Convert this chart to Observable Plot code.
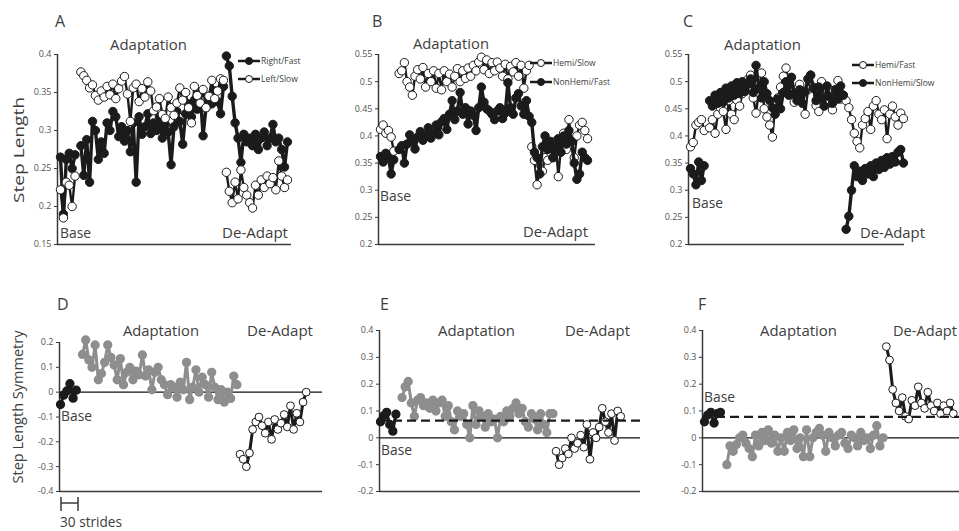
<!DOCTYPE html>
<html><head><meta charset="utf-8">
<script src="https://cdn.jsdelivr.net/npm/d3@7"></script>
<script src="https://cdn.jsdelivr.net/npm/@observablehq/plot@0.6"></script>
<style>
body{margin:0;background:#fff;}
#wrap{position:relative;width:959px;height:531px;overflow:hidden;font-family:"Open Sans",sans-serif;background:#fff;}
#wrap > svg{position:absolute;margin:0;}
</style></head><body><div id="wrap"></div>
<script>
// ---------- Tick values ----------
const ticksA = [0.15, 0.2, 0.25, 0.3, 0.35, 0.4];
const ticksBC = [0.2, 0.25, 0.3, 0.35, 0.4, 0.45, 0.5, 0.55];
const ticksD = [-0.4, -0.3, -0.2, -0.1, 0, 0.1, 0.2];
const ticksEF = [-0.2, -0.1, 0, 0.1, 0.2, 0.3, 0.4];

// ---------- Panel A : step length ----------
const A_fast_base = [0.265, 0.190, 0.262, 0.270, 0.250, 0.268];
const A_fast_adapt = [0.280,0.241,0.288,0.232,0.312,0.300,0.262,0.285,0.270,0.310,0.300,0.325,0.318,0.292,0.305,0.286,0.300,0.272,0.310,0.232,0.318,0.295,0.305,0.322,0.296,0.310,0.300,0.318,0.290,0.308,0.298,0.255,0.305,0.325,0.312,0.282,0.322,0.335,0.318,0.340,0.328,0.350,0.293,0.330,0.345,0.335,0.352,0.338,0.322,0.358];
const A_fast_deadapt = [0.398,0.385,0.345,0.310,0.290,0.258,0.295,0.285,0.290,0.280,0.295,0.275,0.290,0.298,0.280,0.290,0.308,0.285,0.290,0.275,0.252,0.285];
const A_slow_base = [0.222, 0.185, 0.232, 0.228, 0.200, 0.240];
const A_slow_adapt = [0.377,0.372,0.366,0.356,0.360,0.346,0.340,0.352,0.344,0.358,0.347,0.361,0.342,0.355,0.365,0.371,0.348,0.312,0.356,0.361,0.338,0.355,0.344,0.364,0.352,0.326,0.331,0.342,0.321,0.316,0.344,0.330,0.320,0.336,0.356,0.340,0.350,0.330,0.310,0.358,0.346,0.336,0.354,0.330,0.345,0.366,0.342,0.352,0.368,0.366];
const A_slow_deadapt = [0.245,0.220,0.205,0.232,0.210,0.248,0.225,0.215,0.205,0.198,0.228,0.215,0.235,0.225,0.240,0.230,0.238,0.222,0.260,0.240,0.225,0.235];

// ---------- Panel B ----------
const B_slow_base = [0.412, 0.420, 0.405, 0.410, 0.398, 0.372];
const B_slow_adapt = [0.515,0.520,0.535,0.500,0.490,0.475,0.510,0.522,0.505,0.526,0.490,0.515,0.500,0.520,0.488,0.515,0.485,0.520,0.500,0.514,0.490,0.510,0.524,0.500,0.520,0.506,0.525,0.510,0.530,0.520,0.536,0.545,0.522,0.540,0.515,0.535,0.520,0.536,0.525,0.510,0.532,0.505,0.528,0.518,0.535,0.510,0.530,0.488,0.520,0.530];
const B_slow_deadapt = [0.380,0.355,0.310,0.340,0.335,0.360,0.355,0.370,0.360,0.390,0.325,0.380,0.405,0.375,0.430,0.390,0.360,0.400,0.420,0.425,0.410,0.395];
const B_fast_base = [0.362, 0.352, 0.368, 0.360, 0.330, 0.356];
const B_fast_adapt = [0.375,0.382,0.350,0.385,0.402,0.390,0.376,0.398,0.408,0.392,0.400,0.415,0.396,0.405,0.420,0.402,0.426,0.432,0.412,0.440,0.465,0.430,0.446,0.480,0.440,0.452,0.422,0.446,0.438,0.410,0.452,0.490,0.462,0.450,0.446,0.440,0.430,0.446,0.452,0.432,0.442,0.498,0.452,0.440,0.470,0.478,0.455,0.440,0.465,0.436];
const B_fast_deadapt = [0.425,0.370,0.360,0.330,0.380,0.400,0.375,0.390,0.360,0.380,0.395,0.370,0.400,0.385,0.410,0.390,0.350,0.320,0.330,0.370,0.360,0.355];

// ---------- Panel C ----------
const C_fast_base = [0.380, 0.388, 0.420, 0.425, 0.430, 0.410];
const C_fast_adapt = [0.415,0.430,0.405,0.440,0.452,0.445,0.412,0.465,0.440,0.430,0.466,0.455,0.478,0.490,0.504,0.512,0.470,0.442,0.480,0.516,0.450,0.435,0.420,0.398,0.455,0.470,0.490,0.510,0.525,0.500,0.480,0.462,0.486,0.495,0.470,0.440,0.485,0.512,0.490,0.456,0.445,0.500,0.470,0.460,0.485,0.448,0.478,0.502,0.468,0.475];
const C_fast_deadapt = [0.465,0.452,0.430,0.405,0.390,0.378,0.420,0.432,0.445,0.412,0.455,0.465,0.440,0.430,0.448,0.395,0.440,0.455,0.435,0.420,0.442,0.432];
const C_slow_base = [0.340, 0.330, 0.310, 0.352, 0.318, 0.345];
const C_slow_adapt = [0.465,0.455,0.475,0.460,0.480,0.462,0.488,0.470,0.492,0.475,0.498,0.478,0.500,0.482,0.495,0.505,0.480,0.530,0.488,0.470,0.500,0.478,0.465,0.452,0.440,0.468,0.450,0.480,0.500,0.475,0.508,0.478,0.465,0.485,0.460,0.482,0.505,0.512,0.488,0.465,0.490,0.470,0.455,0.492,0.472,0.460,0.485,0.468,0.492,0.475];
const C_slow_deadapt = [0.228,0.252,0.300,0.345,0.325,0.335,0.318,0.340,0.330,0.345,0.325,0.350,0.338,0.355,0.342,0.360,0.348,0.362,0.352,0.370,0.375,0.350];

// ---------- Panels D-F : step length symmetry ----------
const D_base = [-0.050, -0.012, 0.005, 0.034, -0.024, 0.008];
const D_adapt = [0.152,0.210,0.130,0.100,0.190,0.050,0.075,0.120,0.190,0.140,0.110,0.050,0.135,0.030,0.080,0.100,0.050,0.085,0.070,0.150,0.065,0.090,0.010,0.080,0.100,0.050,0.030,-0.010,0.030,0.020,-0.020,0.040,0.010,0.120,-0.030,0.020,0.090,0.000,0.060,0.030,-0.020,0.080,0.020,-0.030,0.010,-0.040,0.000,-0.025,0.065,0.030];
const D_deadapt = [-0.250,-0.270,-0.300,-0.245,-0.150,-0.120,-0.100,-0.135,-0.165,-0.120,-0.190,-0.110,-0.150,-0.125,-0.090,-0.140,-0.055,-0.150,-0.085,-0.120,-0.040,0.000];

const E_base = [0.060, 0.082, 0.095, 0.050, 0.025, 0.088];
const E_adapt = [0.150,0.190,0.210,0.130,0.080,0.140,0.150,0.120,0.130,0.110,0.140,0.100,0.130,0.140,0.080,0.120,0.060,0.030,0.100,0.080,0.090,0.050,0.000,0.120,0.050,0.100,0.080,0.040,0.090,0.060,0.070,0.000,0.080,0.060,0.100,0.080,0.110,0.130,0.090,0.110,0.060,0.040,0.090,0.070,0.030,0.090,0.050,0.020,0.090,0.090];
const E_deadapt = [-0.050,-0.100,-0.075,-0.040,-0.060,0.000,-0.040,-0.020,0.010,-0.035,0.050,-0.080,0.020,0.000,0.040,0.110,0.060,0.020,0.090,-0.010,0.100,0.080];
const E_baseMean = [0.064];

const F_base = [0.060, 0.085, 0.095, 0.055, 0.090, 0.095];
const F_adapt = [-0.100,-0.030,-0.050,-0.025,0.000,0.010,-0.020,-0.040,-0.070,0.010,-0.030,0.020,-0.010,0.030,-0.020,0.010,-0.050,0.000,-0.050,0.020,-0.010,0.030,-0.040,0.000,-0.070,0.030,-0.070,0.000,0.020,0.035,0.010,-0.050,0.020,0.000,-0.030,0.010,0.020,-0.020,-0.040,0.010,0.000,-0.030,0.020,-0.010,0.000,-0.040,0.010,0.045,-0.030,0.000];
const F_deadapt = [0.340,0.290,0.180,0.130,0.100,0.150,0.080,0.070,0.140,0.120,0.190,0.130,0.110,0.170,0.120,0.100,0.130,0.090,0.120,0.100,0.130,0.090];
const F_baseMean = [0.078];

// stride index where each phase starts
const PHASE_START = {b: 0, a: 7, d: 57};

function rows(base, adapt, de) {
  return [
    ...base.map((v, j) => ({i: PHASE_START.b + j, v, ph: "b"})),
    ...adapt.map((v, j) => ({i: PHASE_START.a + j, v, ph: "a"})),
    ...de.map((v, j) => ({i: PHASE_START.d + j, v, ph: "d"}))
  ];
}
const fmt = d => String(Math.round(d * 100) / 100);
const BLACK = "#1b1b1b", GREY = "#8e8e8e", AXIS = "#3a3a3a";
const wrap = document.getElementById("wrap");

function panel(cfg, dataMarks, extraTop) {
  const ML = 45, MR = 4;
  const xmin = (cfg.axisL - cfg.idx0) / cfg.k, xmax = (cfg.axisR - cfg.idx0) / cfg.k;
  const width = ML + (cfg.axisR - cfg.axisL) + MR;
  const height = cfg.svgBottom - cfg.svgTop;
  const marks = [
    Plot.ruleY([cfg.yDomain[0]], {stroke: AXIS, strokeWidth: 1.5}),
    ...(cfg.zero ? [Plot.ruleY([0], {stroke: "#111", strokeWidth: 1.2})] : []),
    Plot.ruleX([xmin], {stroke: AXIS, strokeWidth: 1.5}),
    Plot.axisY({ticks: cfg.ticks, tickSize: 3, tickPadding: 3, fontSize: 9, tickFormat: fmt, stroke: AXIS, label: null}),
    ...dataMarks,
    ...(extraTop || [])
  ];
  const svg = Plot.plot({
    width, height,
    marginLeft: ML, marginRight: MR,
    marginTop: cfg.yTopPx - cfg.svgTop,
    marginBottom: cfg.svgBottom - cfg.yBotPx,
    x: {domain: [xmin, xmax], axis: null},
    y: {domain: cfg.yDomain, axis: null, label: null},
    style: {fontFamily: "Open Sans, sans-serif", color: "#555", background: "transparent", overflow: "visible"},
    marks
  });
  svg.style.left = (cfg.axisL - ML) + "px";
  svg.style.top = cfg.svgTop + "px";
  wrap.appendChild(svg);
}

function stepSeries(r, filled) {
  return [
    Plot.line(r, {x: "i", y: "v", z: "ph", stroke: BLACK, strokeWidth: filled ? 3.4 : 2.4}),
    Plot.dot(r, {x: "i", y: "v", r: 4.2, fill: filled ? BLACK : "#fff", stroke: BLACK, strokeWidth: 1})
  ];
}
function symSeries(base, adapt, de) {
  const rb = rows(base, [], []), ra = rows([], adapt, []), rd = rows([], [], de);
  return [
    Plot.line(rb, {x: "i", y: "v", stroke: BLACK, strokeWidth: 3}),
    Plot.dot(rb, {x: "i", y: "v", r: 3.9, fill: BLACK, stroke: BLACK}),
    Plot.line(ra, {x: "i", y: "v", stroke: GREY, strokeWidth: 3}),
    Plot.dot(ra, {x: "i", y: "v", r: 3.9, fill: GREY, stroke: GREY}),
    Plot.line(rd, {x: "i", y: "v", stroke: BLACK, strokeWidth: 3}),
    Plot.dot(rd, {x: "i", y: "v", r: 3.9, fill: "#fff", stroke: BLACK, strokeWidth: 1})
  ];
}
const topCfg = {svgTop: 5, svgBottom: 250, yTopPx: 54, yBotPx: 244};
const botCfg = {svgTop: 300, svgBottom: 497, yBotPx: 491};

panel({...topCfg, axisL: 57, axisR: 291, idx0: 60, k: 2.91, yDomain: [0.15, 0.4], ticks: ticksA},
  [...stepSeries(rows(A_fast_base, A_fast_adapt, A_fast_deadapt), true),
   ...stepSeries(rows(A_slow_base, A_slow_adapt, A_slow_deadapt), false)]);
panel({...topCfg, axisL: 378, axisR: 595, idx0: 380, k: 2.654, yDomain: [0.2, 0.55], ticks: ticksBC},
  [...stepSeries(rows(B_slow_base, B_slow_adapt, B_slow_deadapt), false),
   ...stepSeries(rows(B_fast_base, B_fast_adapt, B_fast_deadapt), true)]);
panel({...topCfg, axisL: 688, axisR: 904, idx0: 690, k: 2.73, yDomain: [0.2, 0.55], ticks: ticksBC},
  [...stepSeries(rows(C_fast_base, C_fast_adapt, C_fast_deadapt), false),
   ...stepSeries(rows(C_slow_base, C_slow_adapt, C_slow_deadapt), true)]);

panel({...botCfg, yTopPx: 342, axisL: 59, axisR: 322, idx0: 60, k: 3.15, yDomain: [-0.4, 0.2], ticks: ticksD, zero: true},
  symSeries(D_base, D_adapt, D_deadapt));
panel({...botCfg, yTopPx: 330, axisL: 379, axisR: 640, idx0: 380, k: 3.08, yDomain: [-0.2, 0.4], ticks: ticksEF, zero: true},
  symSeries(E_base, E_adapt, E_deadapt),
  [Plot.ruleY(E_baseMean, {stroke: BLACK, strokeWidth: 2.2, strokeDasharray: "9,5"})]);
panel({...botCfg, yTopPx: 330, axisL: 702, axisR: 959, idx0: 704, k: 3.19, yDomain: [-0.2, 0.4], ticks: ticksEF, zero: true},
  symSeries(F_base, F_adapt, F_deadapt),
  [Plot.ruleY(F_baseMean, {stroke: BLACK, strokeWidth: 2.2, strokeDasharray: "9,5"})]);

// ---------- Annotations overlay ----------
const TXT = "#3d3d3d";
const labels = [
  ["A", 55, 27, 16], ["B", 372, 27, 16], ["C", 683, 27, 16],
  ["D", 57, 310, 16], ["E", 380, 310, 16], ["F", 698, 310, 16],
];
const phaseLabels = [
  ["Adaptation", 110, 50, 77], ["Adaptation", 413, 49, 76], ["Adaptation", 724, 50, 77],
  ["Adaptation", 123, 336, 76], ["Adaptation", 438, 336, 77], ["Adaptation", 760, 336, 77],
  ["De-Adapt", 222, 238, 66], ["De-Adapt", 523, 237, 65], ["De-Adapt", 860, 238, 65],
  ["De-Adapt", 247, 336, 66], ["De-Adapt", 565, 336, 65], ["De-Adapt", 893, 336, 64],
  ["Base", 60, 238, 31], ["Base", 380, 201, 31], ["Base", 692, 208, 31],
  ["Base", 61, 421, 31], ["Base", 381, 455, 31], ["Base", 704, 402, 31],
  ["30 strides", 60, 527, 62]
];
const legends = [
  [238, 61, true, "Right/Fast"], [238, 79, false, "Left/Slow"],
  [530, 63, false, "Hemi/Slow"], [530, 82, true, "NonHemi/Fast"],
  [852, 65, false, "Hemi/Fast"], [852, 83, true, "NonHemi/Slow"]
];
let s = `<svg xmlns="http://www.w3.org/2000/svg" width="959" height="531" style="left:0;top:0;pointer-events:none;font-family:'Open Sans',sans-serif">`;
for (const [t, x, y, fs] of labels) s += `<text x="${x}" y="${y}" font-size="${fs}" fill="${TXT}">${t}</text>`;
for (const [t, x, y, w] of phaseLabels) s += `<text x="${x}" y="${y}" font-size="14" fill="${TXT}" textLength="${w}" lengthAdjust="spacingAndGlyphs">${t}</text>`;
s += `<text transform="translate(24,150) rotate(-90)" text-anchor="middle" font-size="15" fill="${TXT}" textLength="106" lengthAdjust="spacingAndGlyphs">Step Length</text>`;
s += `<text transform="translate(23,407) rotate(-90)" text-anchor="middle" font-size="15" fill="${TXT}" textLength="153" lengthAdjust="spacingAndGlyphs">Step Length Symmetry</text>`;
for (const [x, y, filled, t] of legends) {
  s += `<line x1="${x}" x2="${x + 22}" y1="${y}" y2="${y}" stroke="${BLACK}" stroke-width="2.5"/>`;
  s += `<circle cx="${x + 11}" cy="${y}" r="3.5" fill="${filled ? BLACK : "#fff"}" stroke="${BLACK}" stroke-width="1"/>`;
  s += `<text x="${x + 23}" y="${y + 3}" font-size="8.5" fill="${TXT}">${t}</text>`;
}
// 30-stride scale bar
s += `<g stroke="${AXIS}" stroke-width="1.5"><line x1="61" x2="78" y1="503" y2="503"/><line x1="61" x2="61" y1="497" y2="511"/><line x1="78" x2="78" y1="497" y2="511"/></g>`;
s += `</svg>`;
wrap.insertAdjacentHTML("beforeend", s);
</script></body></html>
